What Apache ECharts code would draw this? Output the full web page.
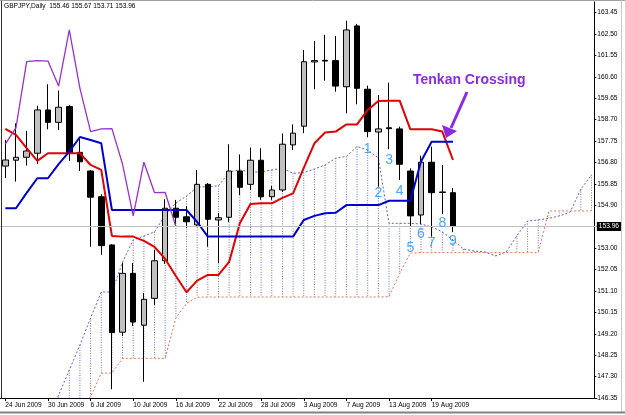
<!DOCTYPE html>
<html><head><meta charset="utf-8">
<script src="https://cdn.jsdelivr.net/npm/echarts/dist/echarts.min.js"></script>
<style>html,body{margin:0;padding:0;background:#fff}#c{width:625px;height:415px}</style>
</head><body><div id="c"></div>
<script>
const FONT = "'Liberation Sans',Arial,sans-serif";
const FS = 6.6;

const dates = ['24 Jun 2009','25 Jun 2009','26 Jun 2009','29 Jun 2009','30 Jun 2009',
 '1 Jul 2009','2 Jul 2009','3 Jul 2009','6 Jul 2009','7 Jul 2009','8 Jul 2009','9 Jul 2009','10 Jul 2009',
 '13 Jul 2009','14 Jul 2009','15 Jul 2009','16 Jul 2009','17 Jul 2009','20 Jul 2009','21 Jul 2009',
 '22 Jul 2009','23 Jul 2009','24 Jul 2009','27 Jul 2009','28 Jul 2009','29 Jul 2009','30 Jul 2009',
 '31 Jul 2009','3 Aug 2009','4 Aug 2009','5 Aug 2009','6 Aug 2009','7 Aug 2009','10 Aug 2009',
 '11 Aug 2009','12 Aug 2009','13 Aug 2009','14 Aug 2009','17 Aug 2009','18 Aug 2009','19 Aug 2009',
 '20 Aug 2009','21 Aug 2009'];
const futureSlots = ['+1','+2','+3','+4','+5','+6','+7','+8','+9','+10','+11','+12','+13'];

const openP  = [156.64,156.90,157.03,157.21,159.13,158.58,159.28,157.25,156.42,155.28,153.14,149.27,151.88,149.58,150.77,152.44,154.77,154.39,154.03,155.83,154.25,154.37,156.42,155.83,156.90,155.28,155.58,157.58,158.41,161.26,161.33,161.32,160.16,162.86,160.05,158.15,158.34,158.29,156.42,154.47,156.81,155.49,155.46];
const closeP = [156.91,157.03,157.31,159.13,158.58,159.25,157.23,156.83,155.26,153.11,149.25,151.88,149.72,150.73,152.44,154.77,154.37,154.17,155.83,154.28,154.35,156.42,155.70,156.90,155.28,155.58,157.61,158.10,161.27,161.32,161.30,160.19,162.68,160.09,158.17,158.29,158.30,156.72,154.43,156.81,155.46,155.47,153.96];
const lowP   = [156.11,155.95,156.66,156.73,158.27,158.24,156.87,156.42,153.06,152.70,146.74,149.10,149.55,147.07,150.48,152.30,154.03,153.89,153.98,153.06,152.34,154.16,155.36,155.58,155.14,155.14,155.49,157.35,158.10,160.05,160.43,159.94,158.98,159.38,157.92,155.73,157.39,156.02,153.94,154.07,153.51,154.51,153.71];
const highP  = [157.80,158.54,158.20,159.32,160.27,159.99,159.34,157.90,156.47,155.39,153.18,152.34,152.34,151.01,152.92,155.17,155.14,154.87,156.47,155.89,154.56,157.61,157.16,157.46,157.43,155.76,158.09,158.49,161.79,162.19,162.46,162.41,163.09,162.95,160.21,159.79,160.34,158.39,156.54,157.10,157.50,156.69,155.67];

const tenkanRed = [158.29,158.02,157.44,156.87,157.21,157.21,157.21,157.21,156.69,156.47,153.54,153.51,153.51,153.32,153.05,152.52,151.76,151.04,151.56,151.81,151.81,152.39,154.10,154.96,154.99,154.99,155.23,155.43,156.56,157.65,158.13,158.17,158.49,158.49,159.13,159.53,159.54,159.54,158.27,158.27,158.27,158.17,156.91];
const kijunBlue = [154.77,154.77,155.45,156.10,156.10,156.73,157.28,157.93,157.80,157.65,154.69,154.69,154.69,154.69,154.69,154.69,154.69,154.69,154.16,153.51,153.51,153.51,153.51,153.51,153.51,153.51,153.51,153.51,154.25,154.43,154.55,154.57,154.91,154.91,154.91,154.91,155.10,155.10,155.10,156.84,157.72,157.72,157.72];
const chikouPurple = [157.61,158.35,161.27,161.32,161.30,160.19,162.68,160.09,158.17,158.29,158.30,156.72,154.43,156.81,155.46,155.47,153.96];
const senkouA = [null,null,null,null,145.40,146.48,147.59,148.70,149.90,151.05,151.05,152.38,153.36,153.54,153.72,154.47,155.00,155.31,155.71,155.73,155.76,156.38,156.47,156.38,156.38,156.47,156.54,156.32,156.35,156.51,156.69,156.99,157.07,157.51,157.35,157.00,154.10,154.10,154.10,154.07,153.94,153.72,153.36,152.96,152.87,152.83,152.65,152.83,153.55,154.20,154.25,154.32,154.43,154.60,155.62,156.25];
const senkouB = [null,null,null,null,null,145.20,145.50,145.90,146.41,147.45,147.46,148.11,148.11,148.11,148.11,148.11,149.90,150.55,150.82,150.83,150.83,150.83,150.83,150.83,150.83,150.83,150.83,150.83,150.83,150.83,150.83,150.83,150.83,150.83,150.83,150.83,150.85,151.88,152.78,152.80,152.80,152.80,152.80,152.80,152.80,152.80,152.80,152.80,152.80,152.80,152.80,154.65,154.65,154.65,154.65,154.65];

const yTicks = [163.45,162.50,161.55,160.60,159.65,158.70,157.75,156.80,155.85,154.90,153.95,153.00,152.05,151.10,150.15,149.20,148.25,147.30,146.35];
const lastQuote = {open:155.46, high:155.67, low:153.71, close:153.96};

const waveNames = ['1','2','3','4','5','6','7','8','9'];
const waveBars  = [34,35,36,37,38,39,40,41,42];
const wavePrice = [157.39,155.43,156.91,155.54,152.99,153.63,153.22,154.10,153.29];

const cats = dates.concat(futureSlots);
const N = cats.length;
const pad = arr => arr.concat(new Array(Math.max(0, N - arr.length)).fill(null));
const candles = dates.map((d, i) => [openP[i], closeP[i], lowP[i], highP[i]]);
const hatch = [];
for (let i = 0; i < N; i++) {
  if (senkouA[i] != null && senkouB[i] != null) hatch.push([i, senkouA[i], senkouB[i]]);
}
const isLabelBar = (i) => i % 4 === 0 && i < dates.length;

const chart = echarts.init(document.getElementById('c'), null, {renderer: 'canvas'});
chart.setOption({
  animation: false,
  backgroundColor: '#fff',
  title: {
    text: 'GBPJPY,Daily  ' + [lastQuote.open, lastQuote.high, lastQuote.low, lastQuote.close].map(v => v.toFixed(2)).join(' '),
    left: 4, top: 3, padding: 0,
    textStyle: {fontSize: FS, fontWeight: 'normal', color: '#000', fontFamily: FONT}
  },
  grid: {left: -2.35, top: 2, width: 599.2, height: 396},
  xAxis: {
    type: 'category', data: cats, boundaryGap: true,
    axisLine: {show: true, lineStyle: {color: '#000', width: 1}},
    axisTick: {show: true, alignWithLabel: true, interval: (i) => isLabelBar(i), length: 3, lineStyle: {color: '#000'}},
    axisLabel: {interval: (i) => isLabelBar(i), align: 'left', margin: 4, fontSize: FS, color: '#000', fontFamily: FONT},
    splitLine: {show: false}
  },
  yAxis: {
    type: 'value', position: 'right', min: 146.35, max: 163.92, offset: -2.5,
    axisLine: {show: true, lineStyle: {color: '#000', width: 1}},
    axisTick: {show: true, length: 2, customValues: yTicks, lineStyle: {color: '#000'}},
    axisLabel: {show: true, customValues: yTicks, formatter: v => v.toFixed(2), margin: 3, fontSize: FS, color: '#000', fontFamily: FONT},
    splitLine: {show: false}
  },
  series: [
    {
      type: 'custom', data: hatch, clip: true, silent: true, z: 1,
      encode: {x: 0, y: [1, 2]},
      renderItem: (params, api) => {
        const i = api.value(0), a = api.value(1), b = api.value(2);
        const p1 = api.coord([i, a]), p2 = api.coord([i, b]);
        return {type: 'line', shape: {x1: p1[0], y1: p1[1], x2: p2[0], y2: p2[1]},
          style: {stroke: a >= b ? '#7070d4' : '#e8866a', lineWidth: 1, lineDash: [1, 1.5]}};
      }
    },
    {type: 'line', data: pad(senkouA), symbol: 'none', z: 2, silent: true,
     lineStyle: {color: '#6a5acd', width: 1, type: [2, 2]}},
    {type: 'line', data: pad(senkouB), symbol: 'none', z: 2, silent: true,
     lineStyle: {color: '#e0785a', width: 1, type: [2, 2]}},
    {
      type: 'candlestick', data: candles, barWidth: 6, z: 3, silent: true,
      itemStyle: {color: '#c0c0c0', color0: '#000', borderColor: '#000', borderColor0: '#000', borderWidth: 1},
      markLine: {
        silent: true, symbol: 'none', animation: false,
        data: [{yAxis: lastQuote.close}],
        lineStyle: {color: '#c0c0c0', type: 'solid', width: 1},
        label: {show: true, position: 'end', formatter: lastQuote.close.toFixed(2), color: '#fff',
          backgroundColor: '#000', padding: [1, 2, 1, 2], fontSize: FS, fontFamily: FONT, distance: 0}
      }
    },
    {type: 'line', data: pad(tenkanRed), symbol: 'none', z: 4, silent: true,
     lineStyle: {color: '#e00000', width: 2}},
    {type: 'line', data: pad(kijunBlue), symbol: 'none', z: 4, silent: true,
     lineStyle: {color: '#0000cc', width: 2}},
    {type: 'line', data: pad(chikouPurple), symbol: 'none', z: 4, silent: true,
     lineStyle: {color: '#9932cc', width: 1.3}},
    {
      type: 'scatter', z: 5, silent: true, symbolSize: 1,
      itemStyle: {color: 'transparent'},
      data: waveNames.map((n, k) => [waveBars[k], wavePrice[k], n]),
      label: {show: true, position: 'inside', formatter: p => p.data[2], color: '#1e90ff', fontSize: 14, fontFamily: 'Liberation Sans'}
    }
  ],
  graphic: [
    {type: 'line', shape: {x1: 1.5, y1: 0, x2: 1.5, y2: 399}, style: {stroke: '#303030', lineWidth: 1}, z: 10},
    {type: 'line', shape: {x1: 0, y1: 0.5, x2: 625, y2: 0.5}, style: {stroke: '#a0a0a0', lineWidth: 1}, z: 10},
    {type: 'line', shape: {x1: 621.5, y1: 0, x2: 621.5, y2: 413}, style: {stroke: '#c8c8c8', lineWidth: 1}, z: 10},
    {type: 'line', shape: {x1: 0, y1: 412.5, x2: 625, y2: 412.5}, style: {stroke: '#808080', lineWidth: 2}, z: 10},
    {type: 'text', left: 413, top: 73, z: 20,
     style: {text: 'Tenkan Crossing', fill: '#8a2be2', font: "bold 14px 'Liberation Sans', Arial, sans-serif"}},
    {type: 'line', shape: {x1: 467, y1: 92, x2: 451, y2: 128}, style: {stroke: '#8a2be2', lineWidth: 3}, z: 20},
    {type: 'polygon', shape: {points: [[446, 138], [442, 125], [457, 131]]}, style: {fill: '#8a2be2'}, z: 20}
  ]
});
</script></body></html>
